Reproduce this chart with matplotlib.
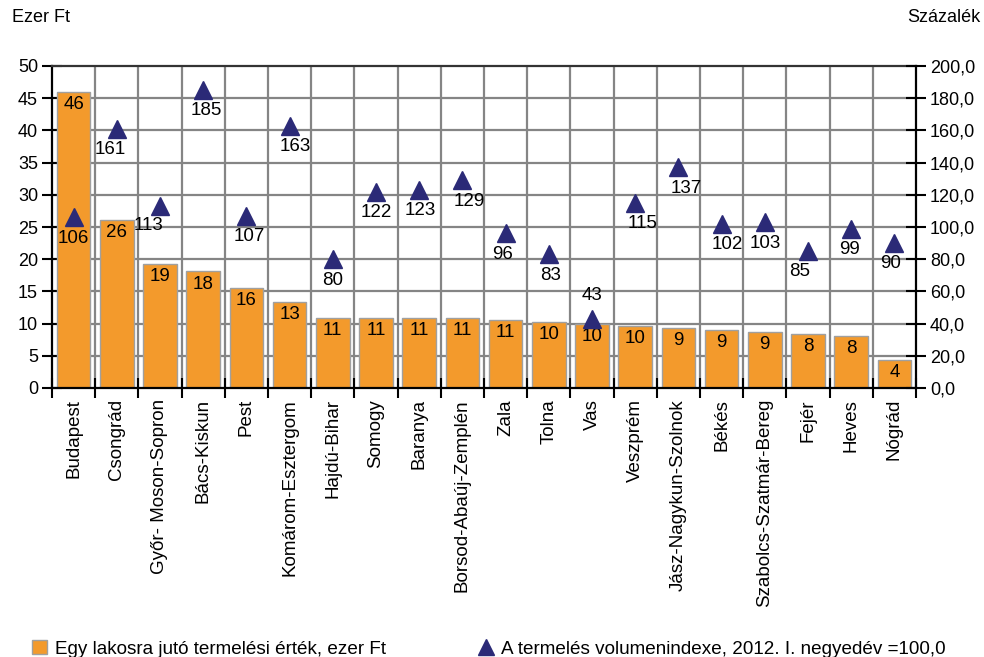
import matplotlib
matplotlib.use("Agg")
import matplotlib.pyplot as plt
from matplotlib.patches import Patch
from matplotlib.lines import Line2D
from matplotlib.ticker import FixedLocator, FuncFormatter

plt.rcParams['font.family'] = ['Liberation Sans', 'DejaVu Sans']

categories = ["Budapest", "Csongrád", "Győr- Moson-Sopron", "Bács-Kiskun", "Pest",
              "Komárom-Esztergom", "Hajdú-Bihar", "Somogy", "Baranya", "Borsod-Abaúj-Zemplén",
              "Zala", "Tolna", "Vas", "Veszprém", "Jász-Nagykun-Szolnok", "Békés",
              "Szabolcs-Szatmár-Bereg", "Fejér", "Heves", "Nógrád"]
per_capita = [46.0, 26.1, 19.3, 18.1, 15.6, 13.4, 10.9, 10.9, 10.9, 10.9,
              10.6, 10.2, 9.9, 9.6, 9.3, 9.0, 8.7, 8.4, 8.1, 4.4]
volume_index = [106, 161, 113, 185, 107, 163, 80, 122, 123, 129,
                96, 83, 43, 115, 137, 102, 103, 85, 99, 90]
# label offsets (dx, dy in points) for the index labels
lab_dx = [0, -5, -8, 2, 2, 4, 0, 0, 1, 5, -2, 1, 0, 5, 6, 4, 0, -6, -1, -3]
lab_dy = [-15, -15, -14, -15, -15, -15, -15, -15, -15, -15, -15, -15, 17, -15, -15, -15, -15, -15, -15, -15]

bar_color = '#F39A2C'
tri_color = '#2B2A77'
grid_color = '#858585'
fs = 13

fig = plt.figure(figsize=(9.84, 6.57), dpi=100)
ax = fig.add_axes([52/984, 1-388/657, (916-52)/984, (388-66)/657])
n = len(categories)
x = list(range(n))

ax.set_xlim(-0.5, n-0.5)
ax.set_ylim(0, 50)
ax.set_axisbelow(True)

# grid
for b in range(1, n):
    ax.axvline(b-0.5, color=grid_color, lw=1.6, zorder=0)
for yv in range(5, 50, 5):
    ax.axhline(yv, color=grid_color, lw=1.6, zorder=0)

bars = ax.bar(x, per_capita, width=0.78, color=bar_color, edgecolor='#A0A0A0', linewidth=1.0, zorder=2)
for xi, v in zip(x, per_capita):
    ax.annotate(f"{v:.0f}", (xi, v), xytext=(0, -3), textcoords='offset points',
                ha='center', va='top', fontsize=fs + 0.5, zorder=5)

ax.set_yticks(range(0, 51, 5))
ax.tick_params(axis='y', direction='inout', length=14, width=1.5, labelsize=fs, pad=3)
ax.xaxis.set_major_locator(FixedLocator([b-0.5 for b in range(n+1)]))
ax.xaxis.set_major_formatter(FuncFormatter(lambda v, p: ""))
ax.xaxis.set_minor_locator(FixedLocator(x))
ax.set_xticklabels(categories, minor=True, rotation=90, fontsize=fs + 0.5)
ax.tick_params(axis='x', which='major', direction='inout', length=14, width=1.5)
ax.tick_params(axis='x', which='minor', length=0, pad=8)

for s in ['left', 'bottom', 'right']:
    ax.spines[s].set_linewidth(1.6)
    ax.spines[s].set_color('black')
ax.spines['top'].set_linewidth(1.6)
ax.spines['top'].set_color('#333333')

ax2 = ax.twinx()
ax2.set_ylim(0, 200)
ax2.set_yticks(range(0, 201, 20))
ax2.yaxis.set_major_formatter(FuncFormatter(lambda v, p: f"{v:.1f}".replace('.', ',')))
ax2.tick_params(axis='y', direction='inout', length=14, width=1.5, labelsize=fs, pad=3)
for s in ['left', 'bottom', 'right', 'top']:
    ax2.spines[s].set_visible(False)
ax2.plot(x, volume_index, linestyle='none', marker='^', markersize=13, color=tri_color, zorder=4)
for xi, v, dx, dy in zip(x, volume_index, lab_dx, lab_dy):
    ax2.annotate(f"{v}", (xi, v), xytext=(dx, dy), textcoords='offset points',
                 ha='center', va='center', fontsize=fs + 0.5, zorder=6)

fig.text(12/984, 1-18/657, "Ezer Ft", fontsize=fs, ha='left', va='center')
fig.text(980/984, 1-18/657, "Százalék", fontsize=fs, ha='right', va='center')

handles = [Patch(facecolor=bar_color, edgecolor='#A0A0A0'),
           Line2D([], [], linestyle='none', marker='^', markersize=12, color=tri_color)]
labels = ["Egy lakosra jutó termelési érték, ezer Ft",
          "A termelés volumenindexe, 2012. I. negyedév =100,0"]
fig.legend(handles, labels, loc='lower left', bbox_to_anchor=(15/984, -0.027), ncol=2,
           frameon=False, fontsize=fs + 0.6, columnspacing=4.9, handlelength=0.8, handletextpad=0.4,
           handleheight=0.8)

fig.savefig("out.png", dpi=100)
